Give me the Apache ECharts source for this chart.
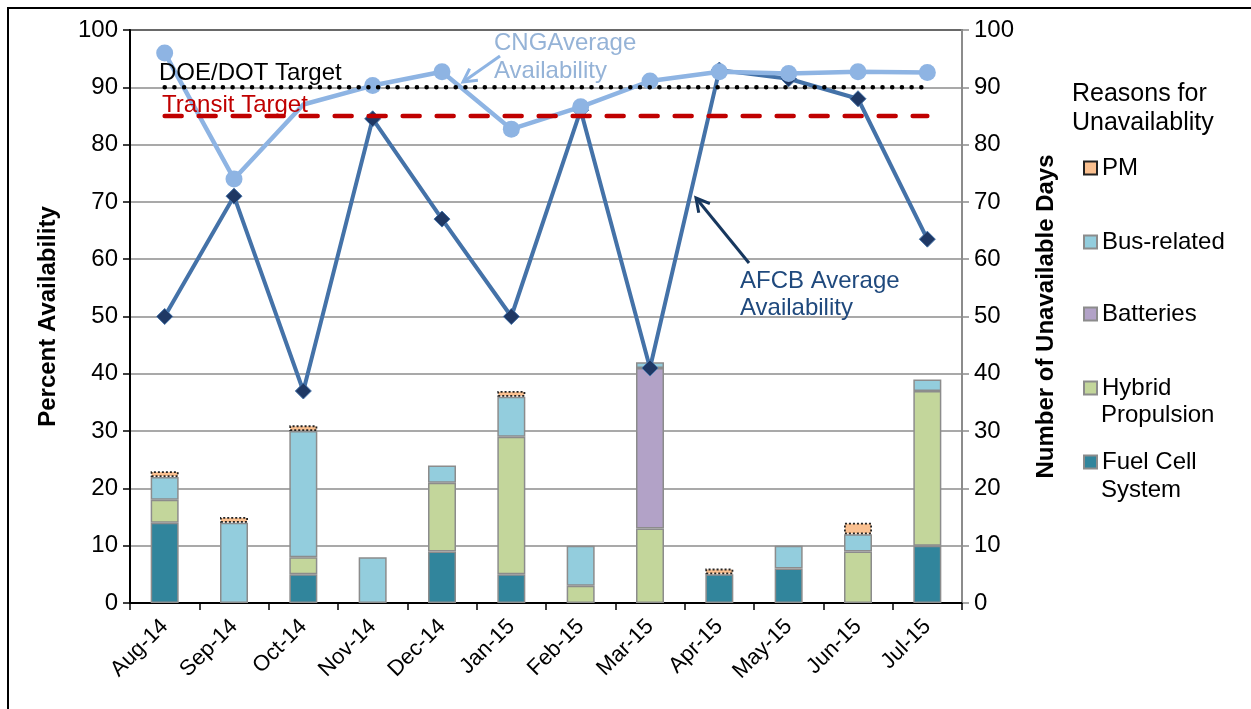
<!DOCTYPE html>
<html>
<head>
<meta charset="utf-8">
<script src="https://cdn.jsdelivr.net/npm/echarts@6/dist/echarts.min.js"></script>
<style>
html,body{margin:0;padding:0;background:#fff;}
#chart{width:1251px;height:709px;}
</style>
</head>
<body>
<div id="chart"></div>
<script>
const categories = ['Aug-14','Sep-14','Oct-14','Nov-14','Dec-14','Jan-15','Feb-15','Mar-15','Apr-15','May-15','Jun-15','Jul-15'];
const fuelCell   = [14, 0, 5, 0, 9, 5, 0, 0, 5, 6, 0, 10];
const hybrid     = [4, 0, 3, 0, 12, 24, 3, 13, 0, 0, 9, 27];
const batteries  = [0, 0, 0, 0, 0, 0, 0, 28, 0, 0, 0, 0];
const busRelated = [4, 14, 22, 8, 3, 7, 7, 1, 0, 4, 3, 2];
const pm         = [1, 1, 1, 0, 0, 1, 0, 0, 1, 0, 2, 0];
const afcbAvail  = [50, 71, 37, 84.5, 67, 50, 86, 41, 93, 91.5, 88, 63.5];
const cngAvail   = [96, 74, 87, 90.3, 92.7, 82.7, 86.6, 91.1, 92.7, 92.4, 92.7, 92.6];
const doeDotTarget = 90;
const transitTarget = 85;
const yTicks = [0, 10, 20, 30, 40, 50, 60, 70, 80, 90, 100];

const FONT = '"Liberation Sans", Arial, sans-serif';
const nz = a => a.map(v => v === 0 ? '-' : v);
const chart = echarts.init(document.getElementById('chart'));

function arrow(x1, y1, x2, y2, color) {
  const ang = Math.atan2(y2 - y1, x2 - x1);
  const L = 15, spread = 0.5;
  const p1 = [x2 - L * Math.cos(ang - spread), y2 - L * Math.sin(ang - spread)];
  const p2 = [x2 - L * Math.cos(ang + spread), y2 - L * Math.sin(ang + spread)];
  return [
    { type: 'line', shape: { x1, y1, x2, y2 }, style: { stroke: color, lineWidth: 3 }, z: 100 },
    { type: 'polyline', shape: { points: [p1, [x2, y2], p2] }, style: { stroke: color, lineWidth: 3, fill: null }, z: 100 }
  ];
}

const barBorder = { borderColor: '#8c8c8c', borderWidth: 1.5 };
function barSeries(name, data, color, extra) {
  return Object.assign({
    name, type: 'bar', stack: 'days', yAxisIndex: 1, barWidth: 28,
    data: nz(data),
    itemStyle: Object.assign({ color }, barBorder),
    emphasis: { disabled: true }
  }, extra || {});
}

function legendFor(name, label, centerY) {
  return {
    data: [name], left: 1083, top: centerY - 13.5, padding: 0,
    orient: 'vertical', icon: 'rect', itemWidth: 13, itemHeight: 13,
    formatter: () => label,
    textStyle: { fontFamily: FONT, fontSize: 24, color: '#000', lineHeight: 27 },
    selectedMode: false
  };
}
const legendText2 = (text, centerY) => ({
  type: 'text', left: 1101, top: centerY - 13.5,
  style: { text, fontFamily: FONT, fontSize: 24, fill: '#000', lineHeight: 27 }, z: 100
});

const option = {
  animation: false,
  backgroundColor: '#fff',
  title: {
    text: 'Reasons for\nUnavailablity', left: 1067, top: 75,
    textStyle: { fontFamily: FONT, fontSize: 25, fontWeight: 'normal', color: '#000', lineHeight: 29 }
  },
  legend: [
    legendFor('PM', 'PM', 168),
    legendFor('Bus-related', 'Bus-related', 242),
    legendFor('Batteries', 'Batteries', 314),
    legendFor('Hybrid Propulsion', 'Hybrid', 388),
    legendFor('Fuel Cell System', 'Fuel Cell', 462)
  ],
  grid: { left: 130, right: 289, top: 30, bottom: 106, show: true, borderColor: '#000', borderWidth: 2, backgroundColor: 'transparent' },
  xAxis: {
    type: 'category', data: categories, boundaryGap: true,
    axisLine: { lineStyle: { color: '#000', width: 2 } },
    axisTick: { show: true, length: 7, lineStyle: { color: '#000', width: 1.5 } },
    axisLabel: { rotate: 45, fontFamily: FONT, fontSize: 22, color: '#000', margin: 20 }
  },
  yAxis: [
    {
      type: 'value', min: 0, max: 100, interval: 10, position: 'left',
      name: 'Percent Availability', nameLocation: 'middle', nameGap: 70,
      nameTextStyle: { fontFamily: FONT, fontSize: 24, fontWeight: 'bold', color: '#000' },
      axisLine: { show: true, lineStyle: { color: '#000', width: 2 } },
      axisTick: { show: true, length: 7, lineStyle: { color: '#000', width: 1.5 } },
      axisLabel: { fontFamily: FONT, fontSize: 24, color: '#000', margin: 12,
        formatter: v => yTicks.includes(v) ? String(v) : '' },
      splitLine: { show: true, lineStyle: { color: '#8c8c8c', width: 1.5 } }
    },
    {
      type: 'value', min: 0, max: 100, interval: 10, position: 'right',
      name: 'Number of Unavailable Days', nameLocation: 'middle', nameGap: 72, nameRotate: 90,
      nameTextStyle: { fontFamily: FONT, fontSize: 24, fontWeight: 'bold', color: '#000' },
      axisLine: { show: true, lineStyle: { color: '#8c8c8c', width: 2 } },
      axisTick: { show: true, length: 7, lineStyle: { color: '#8c8c8c', width: 1.5 } },
      axisLabel: { fontFamily: FONT, fontSize: 24, color: '#000', margin: 12,
        formatter: v => yTicks.includes(v) ? String(v) : '' },
      splitLine: { show: false }
    }
  ],
  series: [
    barSeries('Fuel Cell System', fuelCell, '#31859C'),
    barSeries('Hybrid Propulsion', hybrid, '#C3D69B'),
    barSeries('Batteries', batteries, '#B2A2C7'),
    barSeries('Bus-related', busRelated, '#93CDDD'),
    barSeries('PM', pm, '#FAC090', { itemStyle: { color: '#FAC090', borderColor: '#222', borderWidth: 1.8, borderType: [2, 2] } }),
    {
      name: 'AFCB Average Availability', type: 'line', yAxisIndex: 0, data: afcbAvail,
      symbol: 'diamond', symbolSize: 16,
      lineStyle: { color: '#4472A8', width: 4 },
      itemStyle: { color: '#1F3864', borderColor: '#4472A8', borderWidth: 1 },
      z: 5, emphasis: { disabled: true }
    },
    {
      name: 'CNG Average Availability', type: 'line', yAxisIndex: 0,
      data: cngAvail.map((v, i) => i === 2 ? { value: v, symbolSize: 0 } : v),
      symbol: 'circle', symbolSize: 17,
      lineStyle: { color: '#8EB4E3', width: 4.5 },
      itemStyle: { color: '#8EB4E3' },
      z: 6, emphasis: { disabled: true }
    },
    {
      name: 'DOE/DOT Target', type: 'line', yAxisIndex: 0,
      data: categories.map(() => doeDotTarget), symbol: 'none',
      lineStyle: { color: '#000', width: 4.5, type: [0.1, 9.6], cap: 'round' },
      z: 7, emphasis: { disabled: true }
    },
    {
      name: 'Transit Target', type: 'line', yAxisIndex: 0,
      data: categories.map(() => transitTarget), symbol: 'none',
      lineStyle: { color: '#C00000', width: 4.5, type: [17, 17], cap: 'round' },
      z: 7, emphasis: { disabled: true }
    }
  ],
  graphic: [
    { type: 'rect', shape: { x: 8, y: 8, width: 1300, height: 800 }, style: { fill: null, stroke: '#000', lineWidth: 2 }, silent: true },
    { type: 'text', left: 159, top: 61, style: { text: 'DOE/DOT Target', fontFamily: FONT, fontSize: 24, fill: '#000' }, z: 100 },
    { type: 'text', left: 162, top: 93, style: { text: 'Transit Target', fontFamily: FONT, fontSize: 24, fill: '#C00000' }, z: 100 },
    { type: 'text', left: 494, top: 29, style: { text: 'CNGAverage\nAvailability', fontFamily: FONT, fontSize: 24, fill: '#95B3D7', lineHeight: 28 }, z: 100 },
    { type: 'text', left: 740, top: 268, style: { text: 'AFCB Average\nAvailability', fontFamily: FONT, fontSize: 24, fill: '#1F497D', lineHeight: 27 }, z: 100 },
    legendText2('Propulsion', 415),
    legendText2('System', 490),
    ...arrow(500, 56, 463, 82, '#8EB4E3'),
    ...arrow(749, 263, 696, 198, '#17375E')
  ]
};
chart.setOption(option);
</script>
</body>
</html>
